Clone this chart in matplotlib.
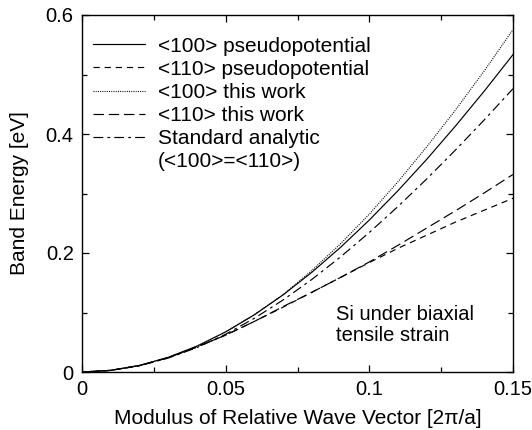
import matplotlib
matplotlib.use("Agg")
import matplotlib.pyplot as plt
import numpy as np

plt.rcParams['font.family'] = ['Liberation Sans', 'DejaVu Sans']
plt.rcParams['lines.scale_dashes'] = False

k = [0.0, 0.01, 0.02, 0.03, 0.04, 0.05, 0.06, 0.07, 0.08, 0.09, 0.10, 0.11, 0.12, 0.13, 0.14, 0.15]
e100_pseudo = [0.0, 0.0028, 0.0110, 0.0246, 0.0434, 0.0674, 0.0962, 0.1297, 0.1676, 0.2096, 0.2554, 0.3049, 0.3576, 0.4135, 0.4721, 0.5334]
e110_pseudo = [0.0, 0.0027, 0.0108, 0.0240, 0.0420, 0.0620, 0.0850, 0.1090, 0.1340, 0.1590, 0.1840, 0.2080, 0.2300, 0.2520, 0.2720, 0.2920]
e100_this = [0.0, 0.0028, 0.0110, 0.0246, 0.0434, 0.0674, 0.0963, 0.1300, 0.1706, 0.2156, 0.2654, 0.3199, 0.3786, 0.4405, 0.5061, 0.5754]
e110_this = [0.0, 0.0027, 0.0108, 0.0240, 0.0420, 0.0620, 0.0850, 0.1100, 0.1340, 0.1590, 0.1850, 0.2130, 0.2420, 0.2710, 0.3010, 0.3320]
e_analytic = [0.0, 0.0026, 0.0104, 0.0233, 0.0411, 0.0635, 0.0903, 0.1211, 0.1556, 0.1935, 0.2345, 0.2783, 0.3246, 0.3732, 0.4237, 0.4761]

labels = ["<100> pseudopotential", "<110> pseudopotential", "<100> this work",
          "<110> this work", "Standard analytic", "(<100>=<110>)"]

fig = plt.figure(figsize=(5.32, 4.30), dpi=100)
ax = fig.add_axes([82/532, 1-372/430, (513-82)/532, (372-15)/430])

lw = 0.85
ax.plot(k, e100_pseudo, color='black', lw=lw, linestyle='-', label=labels[0])
ax.plot(k, e110_pseudo, color='black', lw=lw, linestyle=(0, (4.5, 3.5)), label=labels[1])
ax.plot(k, e100_this, color='black', lw=lw, linestyle=(0, (0.7, 0.9)), label=labels[2])
ax.plot(k, e110_this, color='black', lw=lw, linestyle=(0, (7.5, 3.5)), label=labels[3])
ax.plot(k, e_analytic, color='black', lw=lw, linestyle=(0, (7, 3, 2, 3)), label=labels[4])
ax.plot([], [], color='none', label=labels[5])

ax.set_xlim(0, 0.15)
ax.set_ylim(0, 0.6)
ax.set_xticks([0, 0.05, 0.1, 0.15])
ax.set_xticklabels(["0", "0.05", "0.1", "0.15"])
ax.set_yticks([0, 0.2, 0.4, 0.6])
ax.set_yticklabels(["0", "0.2", "0.4", "0.6"])
ax.set_xticks([0.025, 0.075, 0.125], minor=True)
ax.set_yticks([0.1, 0.3, 0.5], minor=True)
ax.tick_params(which='both', direction='in', top=True, right=True, labelsize=14.5, width=0.9)
ax.tick_params(which='major', length=5)
ax.tick_params(which='minor', length=3.5)
ax.tick_params(axis='x', pad=6)
ax.tick_params(axis='y', pad=6)
for s in ax.spines.values():
    s.set_linewidth(1.0)

ax.set_xlabel("Modulus of Relative Wave Vector [2\u03c0/a]", fontsize=15, labelpad=7)
ax.set_ylabel("Band Energy [eV]", fontsize=15, labelpad=12)

leg = ax.legend(loc='upper left', frameon=False, fontsize=15, handlelength=2.5,
                handletextpad=0.6, labelspacing=0.2, borderaxespad=0.0,
                bbox_to_anchor=(0.007, 0.963))

ax.text(0.0884, 0.112, "Si under biaxial\ntensile strain", fontsize=14.5,
        ha='left', va='top', linespacing=1.1)

fig.savefig("out.png", dpi=100)
